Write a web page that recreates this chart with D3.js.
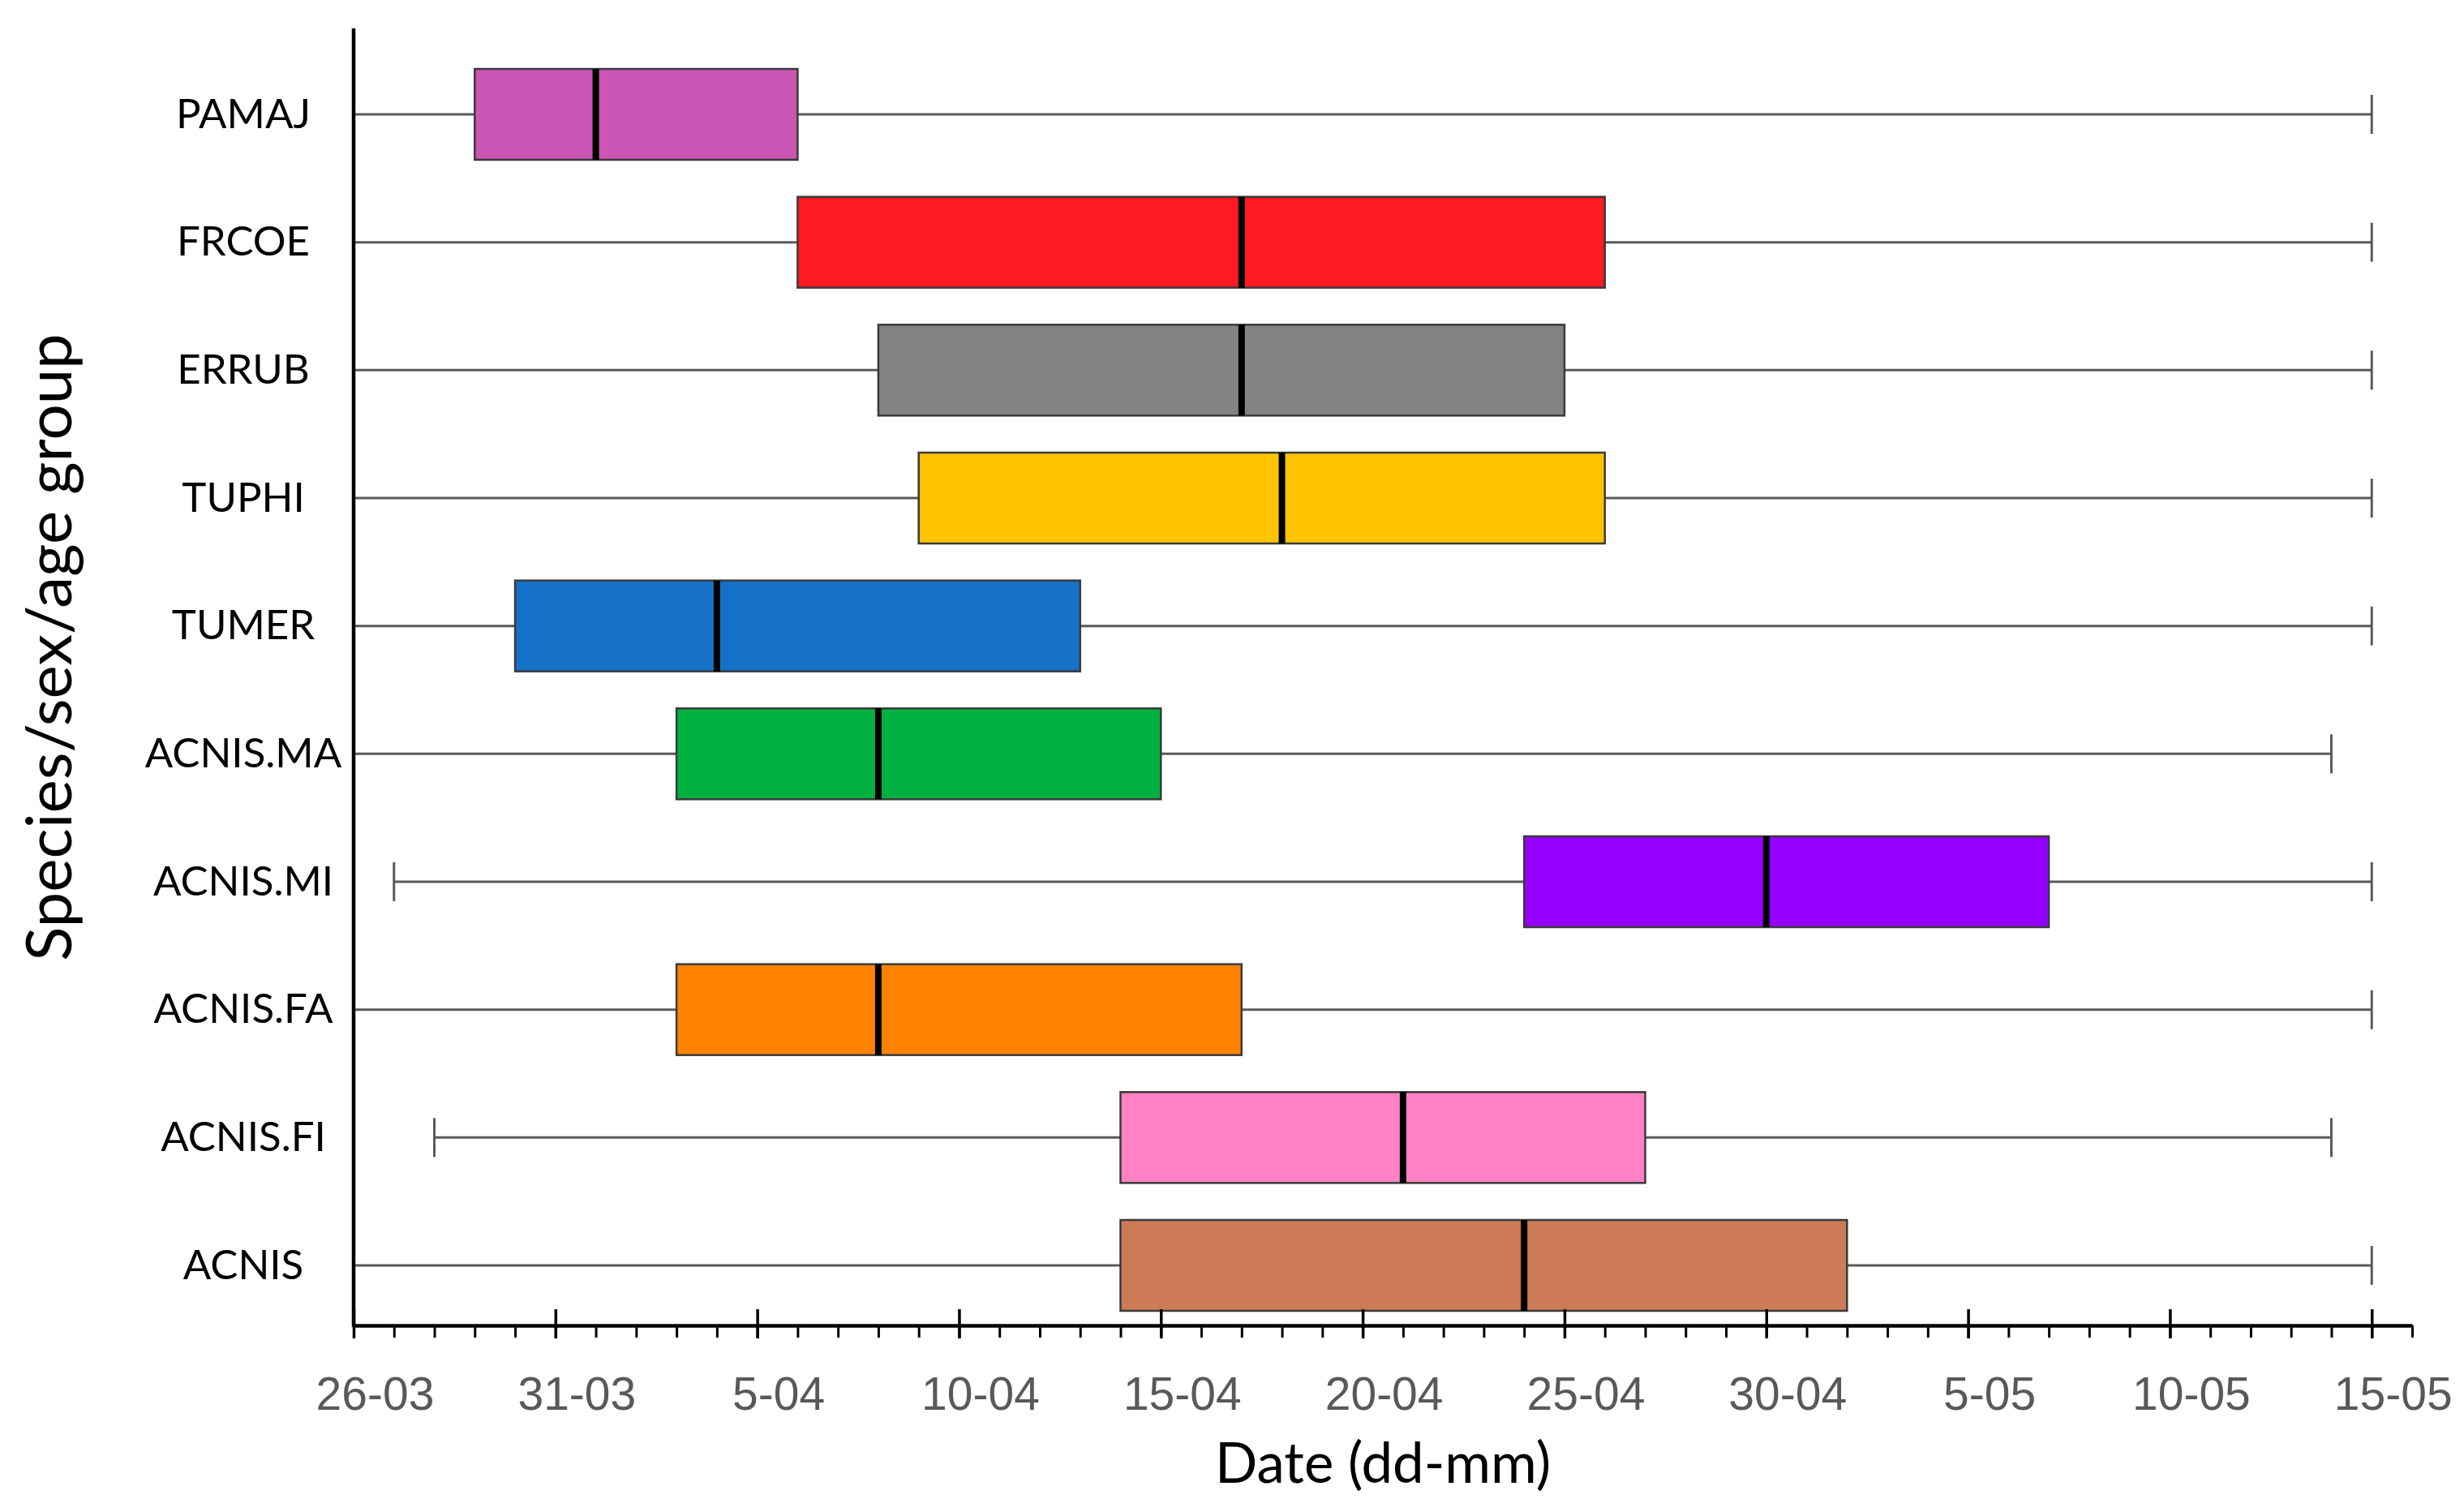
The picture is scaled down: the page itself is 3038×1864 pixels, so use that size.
<!DOCTYPE html>
<html>
<head>
<meta charset="utf-8">
<script src="https://cdn.jsdelivr.net/npm/d3@7"></script>
<style>
  html, body { margin: 0; padding: 0; background: #ffffff; }
  svg { display: block; }
</style>
</head>
<body>
<svg id="chart" width="3038" height="1864"></svg>
<script>
// ---------------- DATA ----------------
const categories   = ["PAMAJ", "FRCOE", "ERRUB", "TUPHI", "TUMER", "ACNIS.MA", "ACNIS.MI", "ACNIS.FA", "ACNIS.FI", "ACNIS"];
const whiskerLow   = ["26-03", "26-03", "26-03", "26-03", "26-03", "26-03", "27-03", "26-03", "28-03", "26-03"];
const quartile1    = ["29-03", "06-04", "08-04", "09-04", "30-03", "03-04", "24-04", "03-04", "14-04", "14-04"];
const medians      = ["01-04", "17-04", "17-04", "18-04", "04-04", "08-04", "30-04", "08-04", "21-04", "24-04"];
const quartile3    = ["06-04", "26-04", "25-04", "26-04", "13-04", "15-04", "07-05", "17-04", "27-04", "02-05"];
const whiskerHigh  = ["15-05", "15-05", "15-05", "15-05", "15-05", "14-05", "15-05", "15-05", "14-05", "15-05"];
const boxColors    = ["#CB55B5", "#FF1923", "#838383", "#FFC300", "#1572C8", "#00B140", "#9600FF", "#FF8200", "#FF82C4", "#CD7B57"];
const axisDomain   = ["26-03", "16-05"];
const majorTickStepDays = 5;
const xTitle = "Date (dd-mm)";
const yTitle = "Species/sex/age group";

// ---------------- HELPERS ----------------
const parseDM = s => { const [d, m] = s.split("-").map(Number); return new Date(Date.UTC(2000, m - 1, d)); };
const fmtDM = d3.utcFormat("%-d-%m");

// ---------------- LAYOUT ----------------
const plotLeft = 436, plotRight = 2974, plotTop = 35, plotBottom = 1634;
const svg = d3.select("#chart");

const x = d3.scaleUtc()
  .domain(axisDomain.map(parseDM))
  .range([plotLeft, plotRight]);

const y = d3.scalePoint()
  .domain(categories)
  .range([141, 1560]);

const boxH = 112, capH = 48;

const rows = categories.map((c, i) => ({
  cat: c,
  lo: parseDM(whiskerLow[i]),
  q1: parseDM(quartile1[i]),
  med: parseDM(medians[i]),
  q3: parseDM(quartile3[i]),
  hi: parseDM(whiskerHigh[i]),
  color: boxColors[i]
}));

// ---------------- BOXES ----------------
const g = svg.append("g");
const row = g.selectAll("g.row").data(rows).join("g").attr("class", "row");

row.append("line")
  .attr("x1", d => x(d.lo)).attr("x2", d => x(d.hi))
  .attr("y1", d => y(d.cat)).attr("y2", d => y(d.cat))
  .attr("stroke", "#5a5a5a").attr("stroke-width", 3);

row.append("line")
  .attr("x1", d => x(d.lo)).attr("x2", d => x(d.lo))
  .attr("y1", d => y(d.cat) - capH / 2).attr("y2", d => y(d.cat) + capH / 2)
  .attr("stroke", "#5a5a5a").attr("stroke-width", 3);

row.append("line")
  .attr("x1", d => x(d.hi)).attr("x2", d => x(d.hi))
  .attr("y1", d => y(d.cat) - capH / 2).attr("y2", d => y(d.cat) + capH / 2)
  .attr("stroke", "#5a5a5a").attr("stroke-width", 3);

row.append("rect")
  .attr("x", d => x(d.q1))
  .attr("width", d => x(d.q3) - x(d.q1))
  .attr("y", d => y(d.cat) - boxH / 2)
  .attr("height", boxH)
  .attr("fill", d => d.color)
  .attr("stroke", "#3a3a3a").attr("stroke-width", 2.5);

row.append("line")
  .attr("x1", d => x(d.med)).attr("x2", d => x(d.med))
  .attr("y1", d => y(d.cat) - boxH / 2).attr("y2", d => y(d.cat) + boxH / 2)
  .attr("stroke", "#000").attr("stroke-width", 8);

// ---------------- X AXIS ----------------
const allDays = d3.utcDay.range(x.domain()[0], d3.utcDay.offset(x.domain()[1], 1));
const majorDays = allDays.filter((d, i) => i % majorTickStepDays === 0);

const minorAxis = svg.append("g")
  .attr("transform", `translate(0,${plotBottom})`)
  .call(d3.axisBottom(x).tickValues(allDays).tickSizeInner(15).tickSizeOuter(0).tickFormat(""));
minorAxis.select(".domain").attr("stroke", "#000").attr("stroke-width", 4.5);
minorAxis.selectAll(".tick line").attr("stroke", "#000").attr("stroke-width", 3);

const majorAxis = svg.append("g")
  .attr("transform", `translate(0,${plotBottom - 20})`)
  .call(d3.axisBottom(x).tickValues(majorDays).tickSizeInner(36).tickSizeOuter(0).tickFormat(""));
majorAxis.select(".domain").remove();
majorAxis.selectAll(".tick line").attr("stroke", "#000").attr("stroke-width", 3.5);

const labelAxis = svg.append("g")
  .attr("transform", `translate(0,${plotBottom})`)
  .call(d3.axisBottom(x).tickValues(majorDays.filter(d => d <= parseDM("15-05"))).tickSize(0).tickPadding(0).tickFormat(fmtDM));
labelAxis.select(".domain").remove();
labelAxis.selectAll(".tick text")
  .attr("dy", null)
  .attr("y", 104)
  .attr("dx", 26)
  .attr("fill", "#595959")
  .style("font-family", "'Liberation Sans', Arial, sans-serif")
  .style("font-size", "57px");

svg.append("text")
  .attr("x", (plotLeft + plotRight) / 2)
  .attr("y", 1828)
  .attr("text-anchor", "middle")
  .style("font-family", "Lato, 'Open Sans', sans-serif")
  .style("font-size", "69px")
  .attr("fill", "#000")
  .text(xTitle);

// ---------------- Y AXIS ----------------
svg.append("line")
  .attr("x1", plotLeft).attr("x2", plotLeft)
  .attr("y1", plotTop).attr("y2", plotBottom + 2)
  .attr("stroke", "#000").attr("stroke-width", 4.5);

const yAxis = svg.append("g")
  .attr("transform", `translate(${plotLeft},0)`)
  .call(d3.axisLeft(y).tickSize(0).tickPadding(0));
yAxis.select(".domain").remove();
yAxis.selectAll(".tick text")
  .attr("x", -136)
  .attr("text-anchor", "middle")
  .attr("fill", "#000")
  .style("font-family", "Lato, 'Open Sans', sans-serif")
  .style("font-size", "51px");

svg.append("text")
  .attr("transform", "translate(88,798) rotate(-90)")
  .attr("text-anchor", "middle")
  .style("font-family", "Lato, 'Open Sans', sans-serif")
  .style("font-size", "78px")
  .attr("fill", "#000")
  .text(yTitle);
</script>
</body>
</html>
